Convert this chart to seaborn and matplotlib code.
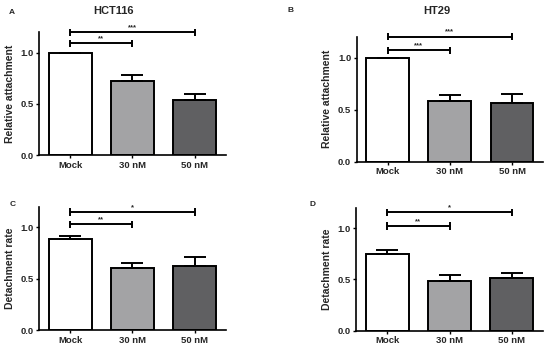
import numpy as np
import pandas as pd
import matplotlib
matplotlib.use("Agg")
import matplotlib.pyplot as plt
import seaborn as sns

# data
groups = ["Mock", "30 nM", "50 nM"]
bar_colors = ["#ffffff", "#a2a2a6", "#606062"]

hct116_attach = [1.0, 0.72, 0.535]
hct116_attach_err = [0.0, 0.065, 0.06]
ht29_attach = [1.0, 0.585, 0.56]
ht29_attach_err = [0.0, 0.055, 0.09]
hct116_detach = [0.885, 0.60, 0.623]
hct116_detach_err = [0.028, 0.055, 0.085]
ht29_detach = [0.75, 0.483, 0.51]
ht29_detach_err = [0.035, 0.058, 0.057]

# significance brackets: (from group, to group, height, label)
sig_a = [(0, 1, 1.09, "**"), (0, 2, 1.20, "***")]
sig_b = [(0, 1, 1.07, "***"), (0, 2, 1.20, "***")]
sig_c = [(0, 1, 1.03, "**"), (0, 2, 1.15, "*")]
sig_d = [(0, 1, 1.02, "**"), (0, 2, 1.155, "*")]

sns.set_style("ticks")
plt.rcParams["font.family"] = ["Liberation Sans", "DejaVu Sans"]
plt.rcParams["font.weight"] = "bold"

W, H = 550, 350


def draw_panel(fig, rect, values, errs, sigs, ylabel, letter, letter_xy,
               title=None, title_xy=None):
    ax = fig.add_axes(rect)
    df = pd.DataFrame({"group": groups, "value": values})
    sns.barplot(data=df, x="group", y="value", order=groups, hue="group",
                palette=bar_colors, legend=False, width=0.69,
                edgecolor="black", linewidth=1.4, errorbar=None, ax=ax)
    xs = np.arange(len(groups))
    ax.errorbar(xs, values, yerr=[np.zeros(len(errs)), errs], fmt="none",
                ecolor="black", elinewidth=1.4, capsize=7.8, capthick=1.4,
                zorder=1)
    for i, j, h, lab in sigs:
        ax.plot([xs[i], xs[j]], [h, h], color="black", lw=1.4,
                clip_on=False, zorder=5)
        ax.vlines([xs[i], xs[j]], h - 0.035, h + 0.035, color="black",
                  lw=1.4, clip_on=False, zorder=5)
        ax.text((xs[i] + xs[j]) / 2, h + 0.012, lab, ha="center",
                va="bottom", fontsize=5.5, fontweight="bold")
    ax.set_xlim(-0.5, 2.5)
    ax.set_ylim(0, 1.2)
    ax.set_yticks([0, 0.5, 1.0])
    ax.set_yticklabels(["0.0", "0.5", "1.0"])
    ax.set_xlabel("")
    ax.set_ylabel(ylabel, fontsize=7.5, fontweight="bold", labelpad=4)
    ax.tick_params(axis="both", labelsize=6.8, width=1.0, length=2.5,
                   color="black", pad=1.5)
    for lbl in ax.get_xticklabels() + ax.get_yticklabels():
        lbl.set_fontweight("bold")
    sns.despine(ax=ax)
    for sp in ["left", "bottom"]:
        ax.spines[sp].set_linewidth(1.2)
        ax.spines[sp].set_color("black")
    if title:
        fig.text(title_xy[0] / W, 1 - title_xy[1] / H, title, fontsize=8,
                 fontweight="bold", ha="center", va="center")
    fig.text(letter_xy[0] / W, 1 - letter_xy[1] / H, letter, fontsize=6,
             fontweight="bold", ha="center", va="center")
    return ax


fig = plt.figure(figsize=(5.5, 3.5), dpi=100)
draw_panel(fig, [0.0709, 0.557, 0.34, 0.351], hct116_attach, hct116_attach_err,
           sig_a, "Relative attachment", "A", (12, 12), "HCT116", (113, 11))
draw_panel(fig, [0.6485, 0.538, 0.339, 0.357], ht29_attach, ht29_attach_err,
           sig_b, "Relative attachment", "B", (291, 11), "HT29", (437, 11))
draw_panel(fig, [0.0709, 0.057, 0.34, 0.352], hct116_detach, hct116_detach_err,
           sig_c, "Detachment rate", "C", (13, 204))
draw_panel(fig, [0.6473, 0.055, 0.34, 0.352], ht29_detach, ht29_detach_err,
           sig_d, "Detachment rate", "D", (312, 205))

fig.savefig("out.png", dpi=100)
